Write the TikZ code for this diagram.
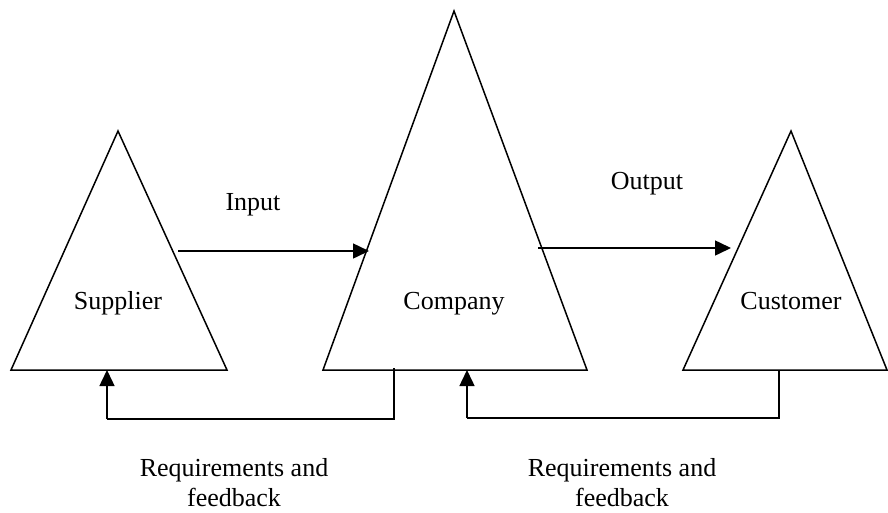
\documentclass[tikz,border=0pt]{standalone}
\usepackage{fontspec}
\setmainfont{Liberation Serif}
\usepackage{tikz}
\usetikzlibrary{calc,arrows.meta}
\definecolor{ink}{HTML}{000000}
\tikzset{
  tri/.style={draw=ink, line width=1.5pt, line join=miter},
  flow/.style={draw=ink, line width=1.5pt, -{Triangle[length=16pt,width=15pt]}},
  link/.style={draw=ink, line width=1.5pt},
  lab/.style={text=ink, font=\fontsize{26}{30}\selectfont, inner sep=0pt,
    text height=18pt, text depth=6pt},
  labm/.style={text=ink, font=\fontsize{26}{30}\selectfont, inner sep=0pt, align=center}
}
\begin{document}
\begin{tikzpicture}[x=1pt, y=-1pt]
  \useasboundingbox (0,0) rectangle (888,512);

  % triangles
  \coordinate (S) at (118,131); \coordinate (Sl) at (11,370);  \coordinate (Sr) at (227,370);
  \coordinate (C) at (454,11);  \coordinate (Cl) at (323,370); \coordinate (Cr) at (587,370);
  \coordinate (K) at (791,131); \coordinate (Kl) at (683,370); \coordinate (Kr) at (887,370);

  \draw[tri] (S)--(Sl)--(Sr)--cycle;
  \draw[tri] (C)--(Cl)--(Cr)--cycle;
  \draw[tri] (K)--(Kl)--(Kr)--cycle;

  \node[lab] (sup) at (118,303) {Supplier};
  \node[lab] (com) at (454,303) {Company};
  \node[lab] (cus) at (791,303) {Customer};

  % input / output
  \coordinate (in1) at (178,251); \coordinate (in2) at (369,251);
  \coordinate (out1) at (538,248); \coordinate (out2) at (731,248);
  \draw[flow] (in1) -- (in2);
  \draw[flow] (out1) -- (out2);
  \node[lab] (inp) at (253,204) {Input};
  \node[lab] (outp) at (647,183) {Output};

  % feedback loops
  \coordinate (fa1) at (394,368); \coordinate (fa2) at (394,419);
  \coordinate (fa3) at (107,419); \coordinate (fa4) at (107,370);
  \draw[link] (fa1) -- (fa2) -- (fa3);
  \draw[flow] (fa3) -- (fa4);

  \coordinate (fb1) at (779,370); \coordinate (fb2) at (779,418);
  \coordinate (fb3) at (467,418); \coordinate (fb4) at (467,370);
  \draw[link] (fb1) -- (fb2) -- (fb3);
  \draw[flow] (fb3) -- (fb4);

  \node[labm] (req1) at (234,483) {Requirements and\\feedback};
  \node[labm] (req2) at (622,483) {Requirements and\\feedback};
\end{tikzpicture}
\end{document}
